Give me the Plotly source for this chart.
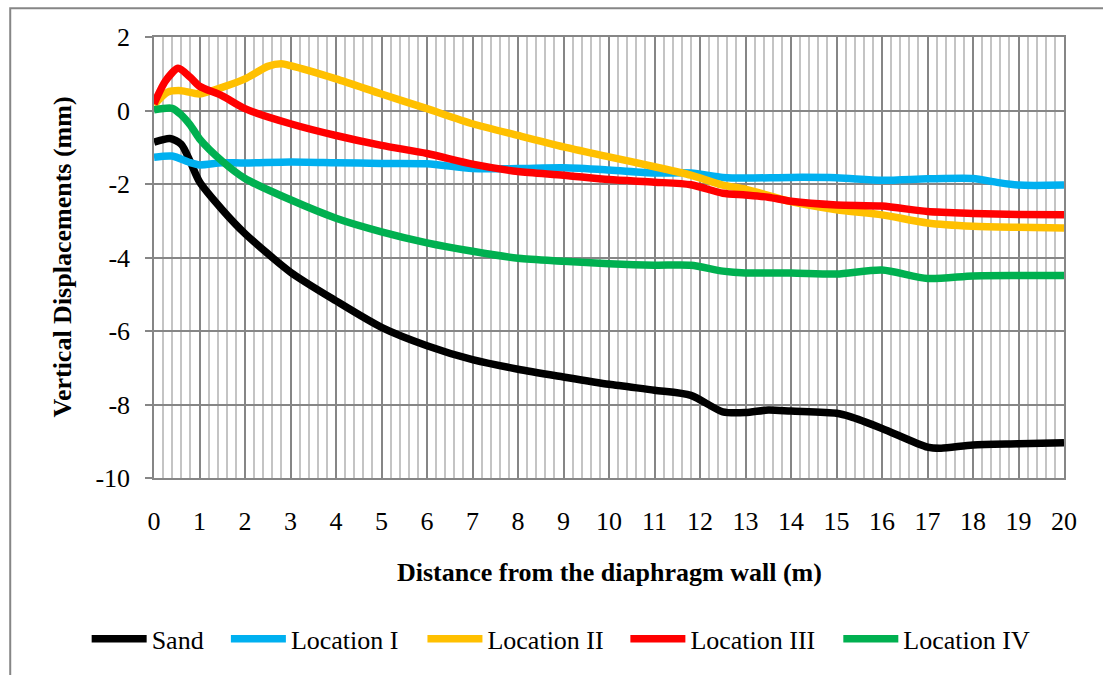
import plotly.graph_objects as go

# Vertical displacement profiles behind the diaphragm wall
sand_x = [0, 0.35, 0.6, 0.8, 1, 1.5, 2, 3, 4, 5, 6, 7, 8, 9, 10, 11, 11.8, 12.5, 13, 13.5, 14, 15, 15.3, 16, 17, 17.3, 18, 19, 20]
sand_y = [-0.86, -0.76, -0.92, -1.4, -1.94, -2.7, -3.35, -4.4, -5.18, -5.9, -6.4, -6.78, -7.04, -7.25, -7.45, -7.61, -7.75, -8.2, -8.22, -8.15, -8.18, -8.24, -8.33, -8.65, -9.16, -9.19, -9.1, -9.07, -9.04]

loc1_x = [0, 0.4, 0.8, 1, 1.5, 2, 3, 4, 5, 6, 7, 8, 9, 10, 11, 11.8, 12.5, 13, 14, 15, 16, 17, 18, 18.5, 19, 20]
loc1_y = [-1.27, -1.24, -1.42, -1.48, -1.42, -1.43, -1.40, -1.42, -1.44, -1.45, -1.58, -1.58, -1.56, -1.62, -1.70, -1.70, -1.82, -1.84, -1.82, -1.83, -1.90, -1.86, -1.85, -1.95, -2.03, -2.03]

loc2_x = [0, 0.3, 0.6, 1, 1.5, 2, 2.5, 2.8, 3, 4, 5, 6, 7, 8, 9, 10, 11, 11.8, 12.5, 13, 14, 15, 16, 17, 18, 19, 20]
loc2_y = [0.15, 0.5, 0.54, 0.45, 0.63, 0.86, 1.2, 1.27, 1.22, 0.86, 0.45, 0.05, -0.36, -0.68, -0.99, -1.26, -1.53, -1.76, -2.03, -2.14, -2.48, -2.7, -2.84, -3.06, -3.15, -3.18, -3.2]

loc3_x = [0, 0.25, 0.53, 0.8, 1, 1.5, 2, 3, 4, 5, 6, 7, 8, 9, 10, 11, 11.8, 12.5, 13, 13.5, 14, 15, 16, 17, 18, 19, 20]
loc3_y = [0.18, 0.8, 1.15, 0.9, 0.66, 0.4, 0.05, -0.36, -0.68, -0.95, -1.17, -1.46, -1.66, -1.76, -1.88, -1.95, -2.02, -2.25, -2.3, -2.36, -2.47, -2.57, -2.6, -2.75, -2.8, -2.83, -2.84]

loc4_x = [0, 0.4, 0.6, 0.8, 1, 1.5, 2, 3, 4, 5, 6, 7, 8, 9, 10, 11, 11.8, 12.5, 13, 14, 15, 16, 17, 18, 19, 20]
loc4_y = [0.02, 0.06, -0.12, -0.4, -0.77, -1.38, -1.85, -2.43, -2.93, -3.3, -3.6, -3.83, -4.02, -4.1, -4.17, -4.21, -4.21, -4.37, -4.42, -4.42, -4.45, -4.34, -4.57, -4.5, -4.49, -4.49]

y_tick_vals = [-10, -8, -6, -4, -2, 0, 2]
y_tick_text = ["-10", "-8", "-6", "-4", "-2", "0", "2"]

series = [
    ("Sand", sand_x, sand_y, "#000000"),
    ("Location I", loc1_x, loc1_y, "#00B0F0"),
    ("Location II", loc2_x, loc2_y, "#FFC000"),
    ("Location III", loc3_x, loc3_y, "#FF0000"),
    ("Location IV", loc4_x, loc4_y, "#00B050"),
]

# left edge of each legend entry, in plot-area fraction
legend_x = [-0.074, 0.079, 0.295, 0.518, 0.752]

FONT = "Liberation Serif"
MAJOR = "#868686"
MINOR = "#c4c4c4"

fig = go.Figure()
layout_legends = {}
for i, (name, xs, ys, color) in enumerate(series):
    key = "legend" if i == 0 else f"legend{i + 1}"
    fig.add_trace(go.Scatter(
        x=xs, y=ys, name=name, mode="lines", legend=key,
        line=dict(color=color, width=7.5, shape="spline", smoothing=0.7),
    ))
    layout_legends[key] = dict(
        orientation="h", x=legend_x[i], y=-0.365, xanchor="left", yanchor="middle",
        font=dict(family=FONT, size=26, color="black"),
        itemwidth=55, bgcolor="rgba(0,0,0,0)", borderwidth=0,
    )

fig.update_layout(
    width=1103, height=675,
    margin=dict(l=154, r=39, t=37, b=194),
    paper_bgcolor="white", plot_bgcolor="white",
    font=dict(family=FONT, size=26, color="black"),
    showlegend=True,
    xaxis=dict(
        range=[0, 20], dtick=1, tick0=0,
        showgrid=True, gridcolor=MAJOR, gridwidth=1.5,
        minor=dict(dtick=0.2, showgrid=True, gridcolor=MINOR, gridwidth=1.5),
        showline=True, linecolor=MAJOR, linewidth=1.5, mirror=True,
        ticks="", zeroline=False,
        tickfont=dict(family=FONT, size=26, color="black"),
        ticklabelstandoff=19,
    ),
    yaxis=dict(
        range=[-10, 2], tickvals=y_tick_vals, ticktext=y_tick_text,
        showgrid=True, gridcolor=MAJOR, gridwidth=1.5,
        showline=True, linecolor=MAJOR, linewidth=1.5, mirror=True,
        ticks="outside", ticklen=7, tickcolor=MAJOR, tickwidth=1.5,
        zeroline=False,
        tickfont=dict(family=FONT, size=26, color="black"),
        ticklabelstandoff=10,
    ),
    annotations=[
        dict(text="<b>Distance from the diaphragm wall (m)</b>", xref="paper", yref="paper",
             x=0.5, y=0, yshift=-94, xanchor="center", yanchor="middle", showarrow=False,
             font=dict(family=FONT, size=26, color="black")),
        dict(text="<b>Vertical Displacements (mm)</b>", xref="paper", yref="paper",
             x=0, y=0.5, xshift=-92, xanchor="center", yanchor="middle", textangle=-90,
             showarrow=False, font=dict(family=FONT, size=26, color="black")),
    ],
    shapes=[
        dict(type="rect", xref="paper", yref="paper",
             x0=-0.158, x1=1.06, y0=-0.46, y1=1.065,
             line=dict(color=MAJOR, width=2), fillcolor="rgba(0,0,0,0)", layer="below"),
    ],
)
fig.update_layout(**layout_legends)

fig.write_html("out.html")
